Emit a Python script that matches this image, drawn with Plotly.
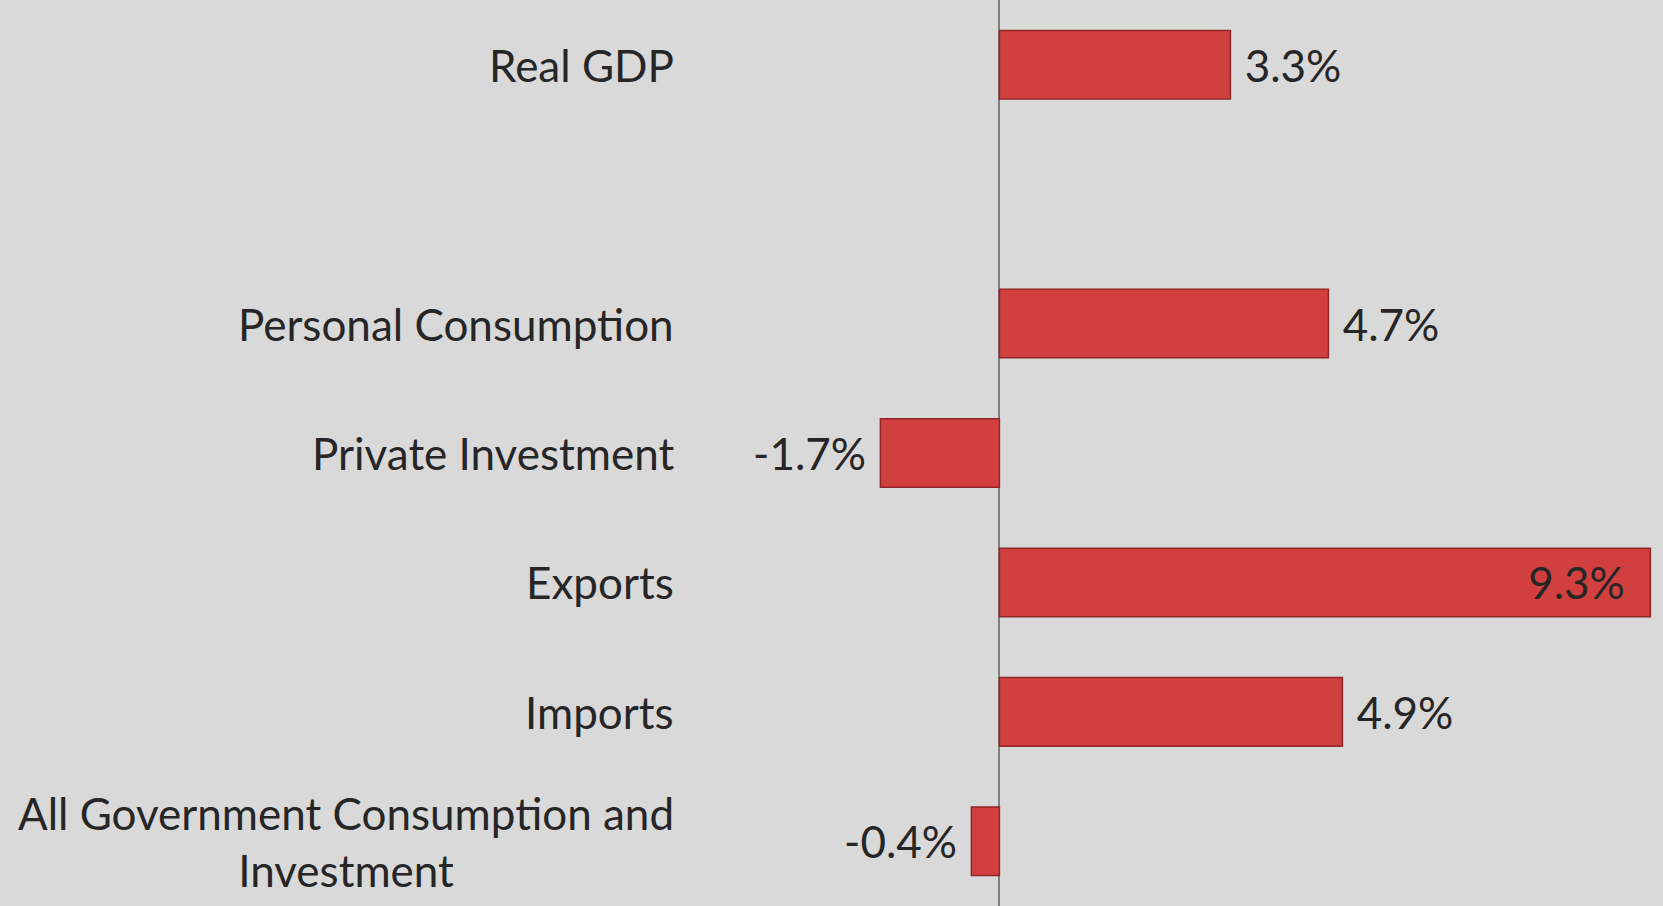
import plotly.graph_objects as go

# categories top to bottom; the blank one keeps the gap under Real GDP
categories = ["Real GDP", " ", "Personal Consumption", "Private Investment",
              "Exports", "Imports", "All Government Consumption and<br>Investment"]
growth = [3.3, None, 4.7, -1.7, 9.3, 4.9, -0.4]
label_pos = ["outside", "outside", "outside", "outside", "inside", "outside", "outside"]

BG = "#D9D9D9"
FONT = "Lato, 'Open Sans', sans-serif"
NB = "\u00a0"


def fmt(v, pos):
    if v is None:
        return ""
    s = f"{v:.1f}%"
    if pos == "inside":
        return s + NB * 2
    return s + NB if v < 0 else NB + s


fig = go.Figure()
fig.add_trace(go.Bar(
    y=categories,
    x=growth,
    orientation="h",
    width=0.53,
    marker=dict(color="#D23F3F", line=dict(color="#902626", width=1.5)),
    text=[fmt(v, p) for v, p in zip(growth, label_pos)],
    textposition=label_pos,
    insidetextanchor="end",
    textfont=dict(family=FONT, size=44, color="#262626"),
    cliponaxis=False,
    hoverinfo="skip",
))

# category labels as annotations so the two-line label is centred
for cat in categories:
    if cat.strip():
        fig.add_annotation(
            x=0, xref="paper", y=cat, yref="y",
            xanchor="right", xshift=-14, align="center",
            text=cat, showarrow=False,
            font=dict(family=FONT, size=44, color="#262626"),
        )

fig.update_xaxes(range=[-4.42, 9.48], showgrid=False, showticklabels=False,
                 zeroline=True, zerolinecolor="#808080", zerolinewidth=1.5)
fig.update_yaxes(autorange="reversed", showticklabels=False, showgrid=False,
                 zeroline=False, categoryorder="array", categoryarray=categories)

fig.update_layout(
    width=1663, height=906,
    margin=dict(l=690, r=0, t=0, b=0),
    paper_bgcolor=BG, plot_bgcolor=BG,
    showlegend=False,
    uniformtext=dict(mode=None),
)

fig.write_html("out.html", config={"displayModeBar": False},
               post_script="document.body.style.margin='0';")
